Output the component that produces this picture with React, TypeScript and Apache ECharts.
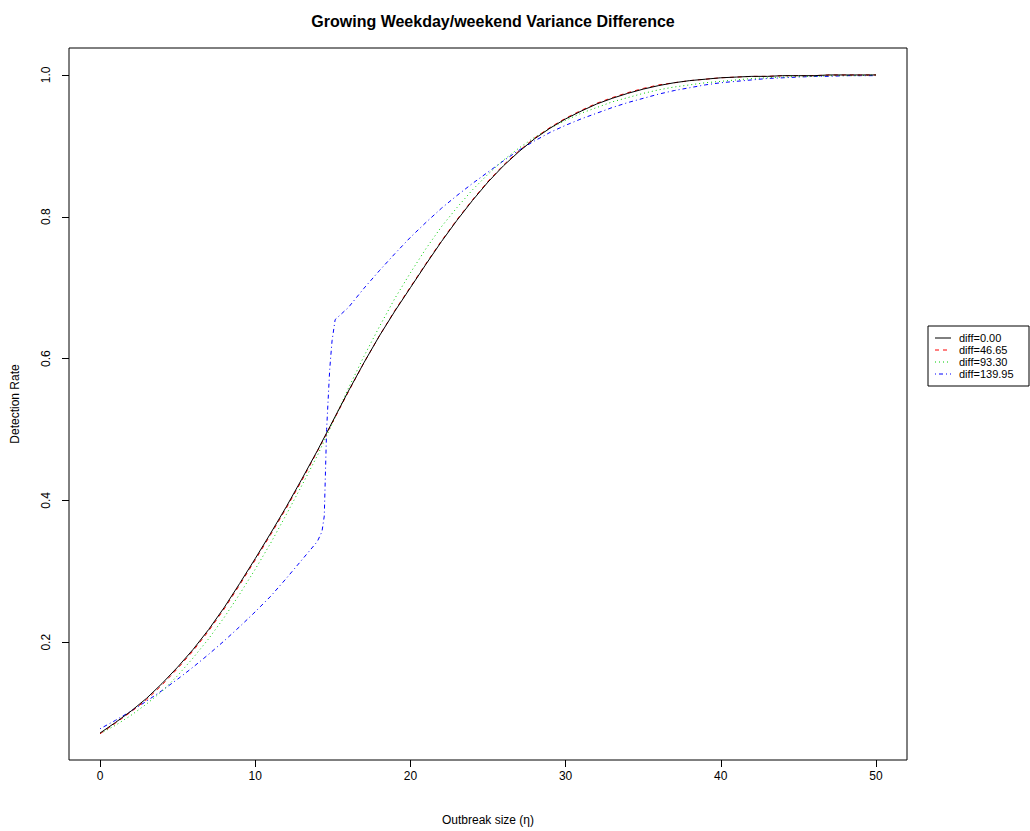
import React, { useEffect, useRef } from "react";
import * as echarts from "echarts";

const chartTitle = "Growing Weekday/weekend Variance Difference";
const xAxisTitle = "Outbreak size (\u03b7)";
const yAxisTitle = "Detection Rate";
const seriesNames = ["diff=0.00", "diff=46.65", "diff=93.30", "diff=139.95"];
const seriesColors = ["#000000", "#FF0000", "#00CD00", "#0000FF"];
const seriesDash: (number[] | "solid")[] = ["solid", [4, 4], [1, 3], [1, 3, 4, 3]];

const xTicks = [0, 10, 20, 30, 40, 50];
const yTicks = [0.2, 0.4, 0.6, 0.8, 1.0];

const xValues = [
  0, 1, 2, 3, 4, 5, 6, 7, 8, 9, 10, 11, 12, 13, 14, 15, 16, 17, 18, 19, 20,
  21, 22, 23, 24, 25, 26, 27, 28, 29, 30, 31, 32, 33, 34, 35, 36, 37, 38, 39, 40,
  41, 42, 43, 44, 45, 46, 47, 48, 49, 50,
];

const diff000 = [
  0.072, 0.087, 0.103, 0.121, 0.142, 0.165, 0.19, 0.218, 0.249, 0.283, 0.318,
  0.354, 0.391, 0.43, 0.47, 0.512, 0.554, 0.594, 0.632, 0.667, 0.7,
  0.733, 0.765, 0.795, 0.823, 0.849, 0.872, 0.892, 0.91, 0.925, 0.938,
  0.949, 0.959, 0.967, 0.974, 0.98, 0.985, 0.989, 0.992, 0.994, 0.996,
  0.997, 0.998, 0.998, 0.999, 0.999, 0.999, 1.0, 1.0, 1.0, 1.0,
];

const diff4665 = [
  0.071, 0.086, 0.102, 0.119, 0.14, 0.163, 0.188, 0.216, 0.247, 0.281, 0.316,
  0.352, 0.389, 0.428, 0.469, 0.511, 0.553, 0.594, 0.632, 0.668, 0.701,
  0.734, 0.766, 0.796, 0.824, 0.85, 0.873, 0.893, 0.911, 0.926, 0.939,
  0.95, 0.96, 0.968, 0.975, 0.981, 0.986, 0.989, 0.992, 0.994, 0.996,
  0.997, 0.998, 0.998, 0.999, 0.999, 0.999, 1.0, 1.0, 1.0, 1.0,
];

const diff9330 = [
  0.071, 0.083, 0.097, 0.113, 0.131, 0.153, 0.178, 0.205, 0.235, 0.268, 0.303,
  0.34, 0.38, 0.421, 0.463, 0.51, 0.558, 0.603, 0.645, 0.685, 0.721,
  0.755, 0.786, 0.813, 0.838, 0.86, 0.88, 0.897, 0.912, 0.925, 0.936,
  0.946, 0.954, 0.962, 0.968, 0.974, 0.979, 0.983, 0.986, 0.989, 0.991,
  0.993, 0.995, 0.996, 0.997, 0.998, 0.998, 0.999, 0.999, 0.999, 1.0,
];

const blueX = [
  0, 1, 2, 3, 4, 5, 6, 7, 8, 9, 10, 11, 12, 13, 14,
  14.3, 14.45, 14.6, 14.8, 14.95, 15.15,
  16, 17, 18, 19, 20, 21, 22, 23, 24, 25, 26, 27, 28, 29, 30,
  31, 32, 33, 34, 35, 36, 37, 38, 39, 40, 41, 42, 43, 44, 45, 46, 47, 48, 49, 50,
];

const diff13995 = [
  0.078, 0.09, 0.103, 0.117, 0.132, 0.148, 0.165, 0.183, 0.202, 0.222, 0.243,
  0.265, 0.29, 0.316, 0.342,
  0.356, 0.378, 0.5, 0.585, 0.625, 0.655,
  0.672, 0.699, 0.724, 0.748, 0.771, 0.792, 0.812, 0.83, 0.847, 0.863,
  0.879, 0.894, 0.907, 0.919, 0.929, 0.938, 0.946, 0.954, 0.961, 0.967,
  0.973, 0.978, 0.982, 0.986, 0.989, 0.991, 0.993, 0.995, 0.996, 0.997,
  0.998, 0.998, 0.999, 0.999, 0.999,
];

const FONT = "'Liberation Sans', Arial, Helvetica, sans-serif";

export default function App() {
  const ref = useRef<HTMLDivElement>(null);

  useEffect(() => {
    if (!ref.current) return;
    const chart = echarts.init(ref.current, undefined, { renderer: "svg" });

    const seriesX = [xValues, xValues, xValues, blueX];
    const seriesY = [diff000, diff4665, diff9330, diff13995];

    const series = seriesNames.map((name, i) => ({
      name,
      type: "line",
      data: seriesX[i].map((x, j) => [x, seriesY[i][j]]),
      showSymbol: false,
      symbol: "none",
      smooth: false,
      clip: true,
      lineStyle: { color: seriesColors[i], width: 1, type: seriesDash[i] },
      itemStyle: { color: seriesColors[i] },
      z: 10 - i,
    }));

    const legendX = 928;
    const legendY = 326;
    const rowH = 12;
    const legendItems: any[] = [
      {
        type: "rect",
        shape: { x: legendX, y: legendY, width: 101, height: 60 },
        style: { fill: "#ffffff", stroke: "#000000", lineWidth: 1 },
      },
    ];
    seriesNames.forEach((name, i) => {
      const cy = legendY + 12 + i * rowH;
      legendItems.push({
        type: "line",
        shape: { x1: legendX + 7, y1: cy, x2: legendX + 23, y2: cy },
        style: {
          stroke: seriesColors[i],
          lineWidth: 1,
          lineDash: seriesDash[i] === "solid" ? null : seriesDash[i],
        },
      });
      legendItems.push({
        type: "text",
        x: legendX + 31,
        y: cy - 5.5,
        style: {
          text: name,
          fill: "#000000",
          font: `11px ${FONT}`,
        },
      });
    });

    chart.setOption({
      animation: false,
      backgroundColor: "#ffffff",
      title: {
        text: chartTitle,
        left: 488,
        top: 8,
        textAlign: "center",
        textStyle: { fontFamily: FONT, fontSize: 16, fontWeight: "bold", color: "#000000" },
      },
      grid: {
        left: 69,
        right: 123,
        top: 48,
        bottom: 68,
        show: true,
        borderColor: "#000000",
        borderWidth: 1,
        backgroundColor: "transparent",
        containLabel: false,
      },
      xAxis: {
        type: "value",
        min: -2,
        max: 52,
        name: xAxisTitle,
        nameLocation: "middle",
        nameGap: 54,
        nameTextStyle: { fontFamily: FONT, fontSize: 12, color: "#000000" },
        axisLine: { show: false, onZero: false },
        splitLine: { show: false },
        axisTick: {
          show: true,
          inside: false,
          length: 7,
          customValues: xTicks,
          lineStyle: { color: "#000000", width: 1 },
        },
        axisLabel: {
          show: true,
          margin: 10,
          customValues: xTicks,
          fontFamily: FONT,
          fontSize: 12,
          color: "#000000",
          formatter: (v: number) => String(v),
        },
      },
      yAxis: {
        type: "value",
        min: 0.034,
        max: 1.038,
        name: yAxisTitle,
        nameLocation: "middle",
        nameGap: 48,
        nameRotate: 90,
        nameTextStyle: { fontFamily: FONT, fontSize: 12, color: "#000000" },
        axisLine: { show: false, onZero: false },
        splitLine: { show: false },
        axisTick: {
          show: true,
          inside: false,
          length: 7,
          customValues: yTicks,
          lineStyle: { color: "#000000", width: 1 },
        },
        axisLabel: {
          show: true,
          rotate: 90,
          margin: 17,
          customValues: yTicks,
          fontFamily: FONT,
          fontSize: 12,
          color: "#000000",
          formatter: (v: number) => v.toFixed(1),
        },
      },
      series,
      graphic: legendItems,
    });

    return () => chart.dispose();
  }, []);

  return (
    <div
      ref={ref}
      style={{ position: "fixed", left: 0, top: 0, width: 1030, height: 831, background: "#fff" }}
    />
  );
}
